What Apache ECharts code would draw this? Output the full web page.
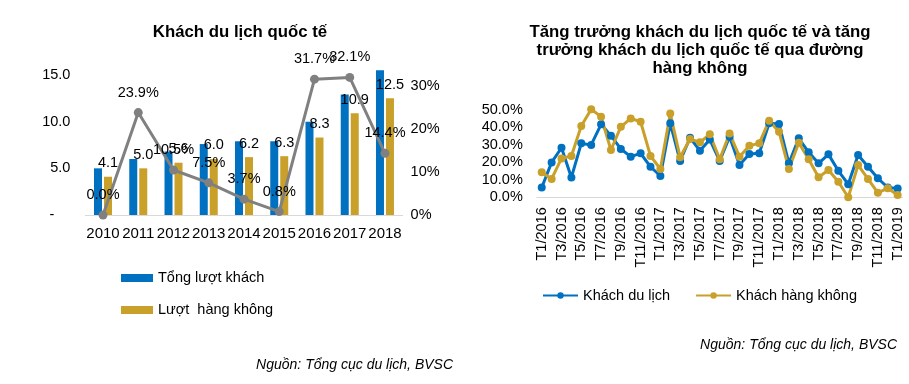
<!DOCTYPE html>
<html><head><meta charset="utf-8">
<script src="https://cdn.jsdelivr.net/npm/echarts@6/dist/echarts.min.js"></script>
<style>html,body{margin:0;padding:0;background:#fff}#c{width:909px;height:384px}</style>
</head><body><div id="c"></div>
<script>
var years = ['2010','2011','2012','2013','2014','2015','2016','2017','2018'];
var totalVisitors = [5.0, 6.0, 6.8, 7.6, 7.9, 7.9, 10.0, 12.9, 15.5];
var airVisitors = [4.1, 5.0, 5.6, 6.0, 6.2, 6.3, 8.3, 10.9, 12.5];
var growthYear = [0.0, 23.9, 10.5, 7.5, 3.7, 0.8, 31.7, 32.1, 14.4];
var leftTicks = [0, 5, 10, 15];
var rightTicks = [0, 10, 20, 30];

var months = ['T1/2016','T2/2016','T3/2016','T4/2016','T5/2016','T6/2016','T7/2016','T8/2016','T9/2016','T10/2016','T11/2016','T12/2016',
  'T1/2017','T2/2017','T3/2017','T4/2017','T5/2017','T6/2017','T7/2017','T8/2017','T9/2017','T10/2017','T11/2017','T12/2017',
  'T1/2018','T2/2018','T3/2018','T4/2018','T5/2018','T6/2018','T7/2018','T8/2018','T9/2018','T10/2018','T11/2018','T12/2018','T1/2019'];
var growthTourist = [5.6, 20.0, 28.4, 11.4, 30.9, 30.0, 41.8, 35.3, 27.7, 23.3, 25.2, 17.5, 12.2, 42.4, 20.8, 34.1, 26.7, 33.1, 20.8, 34.7, 18.5, 24.8, 25.2, 42.4, 42.0, 19.5, 33.8, 25.8, 19.5, 24.6, 15.2, 7.5, 24.2, 17.5, 10.9, 5.6, 5.0];
var growthAir = [14.3, 10.5, 22.3, 23.7, 40.8, 50.4, 46.2, 27.1, 40.4, 45.2, 43.3, 23.7, 16.2, 48.0, 22.9, 33.4, 31.5, 36.1, 21.8, 36.6, 23.3, 29.6, 30.9, 43.9, 37.6, 16.2, 31.3, 21.8, 11.5, 15.6, 8.9, 0.0, 18.5, 10.5, 2.6, 5.2, 1.3];
var monthTicks = [0, 10, 20, 30, 40, 50];

var FF = '"Liberation Sans", Arial, sans-serif';
var BLUE = '#0070C0', GOLD = '#C8A02A', GRAY = '#808080';

var chart = echarts.init(document.getElementById('c'), null, {renderer:'canvas'});
chart.setOption({
  animation: false,
  textStyle: {fontFamily: FF},
  graphic: [
    {type:'text', style:{text:'Khách du lịch quốc tế', x:240, y:32, textAlign:'center', textVerticalAlign:'middle', font:'bold 16.8px ' + FF, fill:'#000'}},
    {type:'text', style:{text:'Tăng trưởng khách du lịch quốc tế và tăng\ntrưởng khách du lịch quốc tế qua đường\nhàng không', x:700, y:50, textAlign:'center', textVerticalAlign:'middle', font:'bold 16.8px ' + FF, lineHeight:18, fill:'#000'}},
    {type:'text', style:{text:'Nguồn: Tổng cục du lịch, BVSC', x:453, y:365, textAlign:'right', textVerticalAlign:'middle', font:'italic 14px ' + FF, fill:'#000'}},
    {type:'text', style:{text:'Nguồn: Tổng cục du lịch, BVSC', x:897, y:345, textAlign:'right', textVerticalAlign:'middle', font:'italic 14px ' + FF, fill:'#000'}}
  ],
  legend: [
    {orient:'vertical', left:121, top:270, padding:0, itemWidth:32, itemHeight:8, itemGap:16, itemTextGap:4,
     data:[{name:'Tổng lượt khách', icon:'rect'}, {name:'Lượt  hàng không', icon:'rect'}],
     textStyle:{fontSize:14.5, color:'#000', fontFamily:FF, lineHeight:16}},
    {orient:'horizontal', left:542, top:288, padding:0, itemWidth:35, itemHeight:8, itemGap:25, itemTextGap:3,
     data:['Khách du lịch','Khách hàng không'],
     textStyle:{fontSize:14.5, color:'#000', fontFamily:FF}}
  ],
  grid: [
    {left:85.4, top:65, width:317.2, height:150},
    {left:536.8, top:101.3, width:365.8, height:96}
  ],
  xAxis: [
    {type:'category', gridIndex:0, data:years,
     axisLine:{lineStyle:{color:'#d9d9d9'}}, axisTick:{show:false},
     axisLabel:{color:'#000', fontSize:15, margin:11, interval:0, fontFamily:FF}},
    {type:'category', gridIndex:1, data:months,
     axisLine:{lineStyle:{color:'#d9d9d9'}}, axisTick:{show:false},
     axisLabel:{color:'#000', fontSize:14.5, margin:10, interval:1, rotate:90, fontFamily:FF}}
  ],
  yAxis: [
    {type:'value', gridIndex:0, min:0, max:16.07, interval:5, splitLine:{show:false},
     axisLine:{show:false}, axisTick:{show:false},
     axisLabel:{color:'#000', fontSize:14.5, margin:15, fontFamily:FF,
       formatter:function(v){ if(leftTicks.indexOf(v)<0) return ''; return v===0 ? '-    ' : v.toFixed(1);}}},
    {type:'value', gridIndex:0, min:0, max:35, interval:10, position:'right', splitLine:{show:false},
     axisLine:{show:false}, axisTick:{show:false},
     axisLabel:{color:'#000', fontSize:14.5, margin:8, fontFamily:FF,
       formatter:function(v){ return rightTicks.indexOf(v)<0 ? '' : v + '%';}}},
    {type:'value', gridIndex:1, min:0, max:55, interval:10, splitLine:{show:false},
     axisLine:{show:false}, axisTick:{show:false},
     axisLabel:{color:'#000', fontSize:14.5, margin:14, fontFamily:FF,
       formatter:function(v){ return monthTicks.indexOf(v)<0 ? '' : v.toFixed(1) + '%';}}}
  ],
  series: [
    {name:'Tổng lượt khách', type:'bar', xAxisIndex:0, yAxisIndex:0, data:totalVisitors,
     barWidth:8, barGap:'25%', itemStyle:{color:BLUE}},
    {name:'Lượt  hàng không', type:'bar', xAxisIndex:0, yAxisIndex:0, data:airVisitors,
     barWidth:8, itemStyle:{color:GOLD},
     label:{show:true, position:'top', distance:6, color:'#000', fontSize:14.5, fontFamily:FF,
       formatter:function(p){return p.value.toFixed(1);}}},
    {name:'growth', type:'line', xAxisIndex:0, yAxisIndex:1, data:growthYear,
     symbol:'circle', symbolSize:9, showAllSymbol:true, lineStyle:{color:GRAY, width:3}, itemStyle:{color:GRAY},
     label:{show:true, position:'top', distance:8, color:'#000', fontSize:14.5, fontFamily:FF,
       formatter:function(p){return p.value.toFixed(1) + '%';}}, z:5},
    {name:'Khách du lịch', type:'line', xAxisIndex:1, yAxisIndex:2, data:growthTourist,
     symbol:'circle', symbolSize:8, showAllSymbol:true, clip:false, lineStyle:{color:BLUE, width:3}, itemStyle:{color:BLUE}},
    {name:'Khách hàng không', type:'line', xAxisIndex:1, yAxisIndex:2, data:growthAir,
     symbol:'circle', symbolSize:8, showAllSymbol:true, clip:false, lineStyle:{color:GOLD, width:3}, itemStyle:{color:GOLD}}
  ]
});
</script></body></html>
